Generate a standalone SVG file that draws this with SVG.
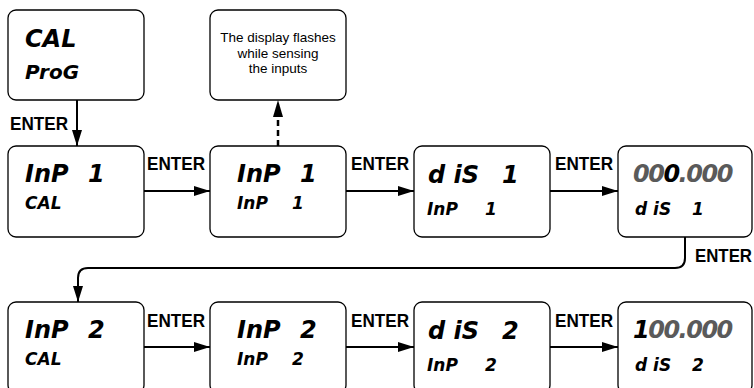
<svg xmlns="http://www.w3.org/2000/svg" width="754" height="388" viewBox="0 0 754 388">
<defs>
<style>
.box{fill:#fff;stroke:#000;stroke-width:1.3}
.ln{fill:none;stroke:#000;stroke-width:2}
.dash{fill:none;stroke:#000;stroke-width:2.5;stroke-dasharray:6 4}
.lbl{font-family:"Liberation Sans",Arial,sans-serif;font-weight:bold;font-size:17.5px;fill:#000}
.big{font-family:"DejaVu Sans",sans-serif;font-weight:bold;font-style:oblique;font-size:24px;fill:#000}
.sm{font-family:"DejaVu Sans",sans-serif;font-weight:bold;font-style:oblique;font-size:17px;fill:#000}
.num{font-family:"DejaVu Sans",sans-serif;font-weight:bold;font-style:oblique;font-size:24px;letter-spacing:-1.5px;fill:#5a5a5a}
.note{font-family:"Liberation Sans",Arial,sans-serif;font-size:13.5px;fill:#000;text-anchor:middle}
.blk{fill:#000}
</style>
<marker id="ah" markerUnits="userSpaceOnUse" markerWidth="16" markerHeight="10" refX="16" refY="5" orient="auto">
<path d="M0,0 L16,5 L0,10 z" fill="#000"/>
</marker>
</defs>

<g id="connectors">
<path class="ln" d="M77 100 L77 146" marker-end="url(#ah)"/>
<path class="ln" d="M144 191 L210 191" marker-end="url(#ah)"/>
<path class="ln" d="M346 191 L414 191" marker-end="url(#ah)"/>
<path class="ln" d="M550 191 L618 191" marker-end="url(#ah)"/>
<path class="dash" d="M278 146 L278 114"/>
<path d="M273 117 L278 100 L283 117 z" fill="#000"/>
<path class="ln" d="M685 237 L685 258 Q685 268 675 268 L88 268 Q78 268 78 278 L78 302" marker-end="url(#ah)"/>
<path class="ln" d="M144 347 L210 347" marker-end="url(#ah)"/>
<path class="ln" d="M346 347 L414 347" marker-end="url(#ah)"/>
<path class="ln" d="M550 347 L618 347" marker-end="url(#ah)"/>
<text class="lbl" x="10" y="130" textLength="58" lengthAdjust="spacingAndGlyphs">ENTER</text>
<text class="lbl" x="147" y="170" textLength="58" lengthAdjust="spacingAndGlyphs">ENTER</text>
<text class="lbl" x="351" y="170" textLength="58" lengthAdjust="spacingAndGlyphs">ENTER</text>
<text class="lbl" x="555" y="170" textLength="58" lengthAdjust="spacingAndGlyphs">ENTER</text>
<text class="lbl" x="695" y="262" textLength="57" lengthAdjust="spacingAndGlyphs">ENTER</text>
<text class="lbl" x="147" y="327" textLength="58" lengthAdjust="spacingAndGlyphs">ENTER</text>
<text class="lbl" x="351" y="327" textLength="58" lengthAdjust="spacingAndGlyphs">ENTER</text>
<text class="lbl" x="555" y="327" textLength="58" lengthAdjust="spacingAndGlyphs">ENTER</text>
</g>

<g id="n-cal-prog">
<rect class="box" x="8" y="10" width="136" height="90" rx="8"/>
<text class="big" x="25" y="47">CAL</text>
<text class="sm" x="25" y="79" style="font-size:20px">ProG</text>
</g>

<g id="n-note">
<rect class="box" x="210" y="10" width="136" height="90" rx="8"/>
<text class="note" x="278" y="42">The display flashes</text>
<text class="note" x="278" y="57.5">while sensing</text>
<text class="note" x="278" y="73">the inputs</text>
</g>

<g id="n-inp1-cal">
<rect class="box" x="8" y="146" width="136" height="91" rx="8"/>
<text class="big" x="25" y="182">InP<tspan x="88">1</tspan></text>
<text class="sm" x="25" y="209">CAL</text>
</g>

<g id="n-inp1-inp1">
<rect class="box" x="210" y="146" width="136" height="91" rx="8"/>
<text class="big" x="237" y="182">InP<tspan x="300">1</tspan></text>
<text class="sm" x="237" y="209">InP<tspan x="292">1</tspan></text>
</g>

<g id="n-dis1-inp1">
<rect class="box" x="414" y="146" width="136" height="91" rx="8"/>
<text class="big" x="428" y="183">d iS<tspan x="502">1</tspan></text>
<text class="sm" x="427" y="215">InP<tspan x="485">1</tspan></text>
</g>

<g id="n-val1-dis1">
<rect class="box" x="618" y="146" width="134" height="91" rx="8"/>
<text class="num" x="633" y="182">00<tspan class="blk">0</tspan>.000</text>
<text class="sm" x="635" y="215">d iS<tspan x="692">1</tspan></text>
</g>

<g id="n-inp2-cal">
<rect class="box" x="8" y="302" width="136" height="91" rx="8"/>
<text class="big" x="25" y="338">InP<tspan x="88">2</tspan></text>
<text class="sm" x="25" y="365">CAL</text>
</g>

<g id="n-inp2-inp2">
<rect class="box" x="210" y="302" width="136" height="91" rx="8"/>
<text class="big" x="237" y="338">InP<tspan x="300">2</tspan></text>
<text class="sm" x="237" y="365">InP<tspan x="292">2</tspan></text>
</g>

<g id="n-dis2-inp2">
<rect class="box" x="414" y="302" width="136" height="91" rx="8"/>
<text class="big" x="428" y="339">d iS<tspan x="502">2</tspan></text>
<text class="sm" x="427" y="371">InP<tspan x="485">2</tspan></text>
</g>

<g id="n-val2-dis2">
<rect class="box" x="618" y="302" width="134" height="91" rx="8"/>
<text class="num" x="633" y="338"><tspan class="blk">1</tspan>00.000</text>
<text class="sm" x="635" y="371">d iS<tspan x="692">2</tspan></text>
</g>
</svg>
